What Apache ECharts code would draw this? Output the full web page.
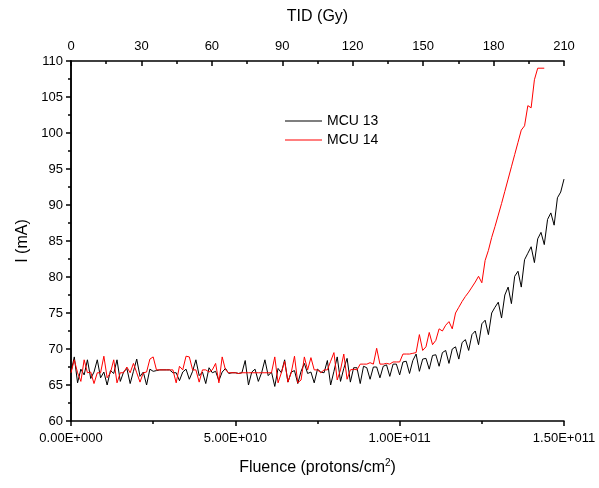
<!DOCTYPE html>
<html><head><meta charset="utf-8">
<script src="https://cdn.jsdelivr.net/npm/echarts@6/dist/echarts.min.js"></script>
<style>html,body{margin:0;padding:0;background:#fff}#c{width:599px;height:488px}</style>
</head><body><div id="c"></div>
<script>
// Fluence step between samples (protons/cm^2)
var fluenceStep = 1e9;
var seriesNames = ['MCU 13', 'MCU 14'];
var mcu13 = [
66.8,68.9,65.3,67.2,66.4,68.5,65.9,66.8,68.5,66.0,
66.8,65.0,67.0,66.6,68.5,65.5,66.8,67.3,65.2,66.9,
68.6,66.2,66.8,65.0,67.2,66.9,67.0,67.1,67.1,67.1,
67.1,66.7,66.7,65.6,66.8,67.2,65.8,66.9,68.5,66.3,
66.8,65.2,67.4,66.7,66.9,65.6,66.8,67.3,66.6,66.7,
66.7,66.6,66.7,68.4,65.0,66.8,67.2,65.5,66.7,68.5,
66.3,66.8,64.8,67.3,66.7,68.5,65.4,66.8,67.0,65.2,
66.9,68.0,66.6,66.8,65.3,67.2,66.8,66.7,68.4,65.0,
66.9,68.9,65.5,67.3,68.7,65.4,67.4,67.4,65.2,67.6,
67.4,65.8,67.5,67.5,66.0,67.6,67.8,66.2,67.9,67.9,
66.4,68.2,68.3,66.6,68.4,69.3,66.9,68.6,68.7,67.2,
69.1,69.2,67.6,69.5,69.8,68.0,70.0,70.3,68.6,70.9,
71.3,69.8,72.0,72.5,70.6,73.5,74.0,72.0,75.0,75.8,
76.5,74.3,77.5,78.6,76.3,80.1,80.8,78.6,82.4,83.3,
84.2,82.0,85.3,86.2,84.5,88.0,88.9,87.2,91.0,91.8,
93.6];
var mcu14 = [
66.7,68.5,66.7,65.5,68.5,66.7,66.8,65.2,66.7,66.7,
69.0,66.0,66.7,68.5,65.3,66.7,66.7,67.5,66.7,68.0,
66.7,65.4,66.7,66.8,68.6,68.9,67.1,67.1,67.1,67.1,
67.1,67.1,65.3,67.6,67.1,69.0,68.9,67.1,67.1,65.4,
67.1,67.1,66.8,67.1,68.0,65.3,68.9,67.1,66.7,66.7,
66.7,66.6,66.7,66.7,66.7,66.7,66.7,66.7,66.7,66.7,
66.7,66.7,68.9,65.3,66.7,68.3,65.4,66.7,69.0,65.3,
65.7,68.9,67.1,68.8,67.1,67.1,66.7,67.1,67.1,68.3,
69.5,65.7,67.1,69.3,65.8,67.1,67.2,67.1,67.9,67.9,
67.9,68.1,67.9,70.1,67.9,67.9,68.0,67.9,68.2,68.2,
68.2,69.3,69.3,69.3,69.4,69.5,72.0,69.8,70.3,72.3,
70.6,71.2,72.8,72.5,73.3,73.8,72.8,75.0,75.8,76.6,
77.3,77.9,78.6,79.3,80.1,79.2,82.3,83.7,85.5,87.0,
88.6,90.2,91.9,93.6,95.3,97.0,98.7,100.4,101.0,103.8,
103.5,107.4,109.0,109.0,109.0];
var xTicks = [0, 5e10, 1e11, 1.5e11];
var xTickLabels = ['0.00E+000', '5.00E+010', '1.00E+011', '1.50E+011'];
var tidTicks = [0, 30, 60, 90, 120, 150, 180, 210];
var yTicks = [60, 65, 70, 75, 80, 85, 90, 95, 100, 105, 110];

function toPairs(arr) {
  return arr.map(function (v, i) { return [i * fluenceStep, v]; });
}
var font = 'Liberation Sans, Arial, sans-serif';
var axisLine = { show: true, lineStyle: { color: '#000', width: 1.5 } };
var chart = echarts.init(document.getElementById('c'), null, { renderer: 'canvas' });
chart.setOption({
  animation: false,
  backgroundColor: '#fff',
  grid: { left: 71, right: 35, top: 61, bottom: 67, containLabel: false },
  legend: {
    left: 280, top: 109, orient: 'vertical', icon: 'rect', itemWidth: 37, itemHeight: 1.2, itemGap: 5,
    textStyle: { fontFamily: font, fontSize: 14, color: '#000' },
    data: seriesNames
  },
  xAxis: [{
    type: 'value', position: 'bottom', min: xTicks[0], max: xTicks[xTicks.length - 1], interval: xTicks[1] - xTicks[0],
    axisLine: axisLine, splitLine: { show: false },
    axisTick: { show: true, inside: false, length: 5, lineStyle: { color: '#000', width: 1.5 } },
    minorTick: { show: true, splitNumber: 2, length: 3, lineStyle: { color: '#000', width: 1.5 } },
    axisLabel: { fontFamily: font, fontSize: 13, color: '#000', margin: 11,
      formatter: function (v) { var k = xTicks.indexOf(v); return k >= 0 ? xTickLabels[k] : ''; } },
    name: '{a|Fluence (protons/cm}{s|2}{a|)}', nameLocation: 'middle', nameGap: 37,
    nameTextStyle: { rich: { a: { fontFamily: font, fontSize: 16, color: '#000' }, s: { fontFamily: font, fontSize: 10, color: '#000', verticalAlign: 'top', padding: [0, 0, 9, 0] } } }
  }, {
    type: 'value', position: 'top', min: tidTicks[0], max: tidTicks[tidTicks.length - 1], interval: tidTicks[1] - tidTicks[0],
    axisLine: axisLine, splitLine: { show: false },
    axisTick: { show: true, inside: true, length: 5, lineStyle: { color: '#000', width: 1.5 } },
    minorTick: { show: true, splitNumber: 2, length: 3, lineStyle: { color: '#000', width: 1.5 } },
    axisLabel: { fontFamily: font, fontSize: 13, color: '#000', margin: 8 },
    name: 'TID (Gy)', nameLocation: 'middle', nameGap: 36,
    nameTextStyle: { fontFamily: font, fontSize: 16, color: '#000' }
  }],
  yAxis: [{
    type: 'value', position: 'left', min: yTicks[0], max: yTicks[yTicks.length - 1], interval: yTicks[1] - yTicks[0],
    axisLine: axisLine, splitLine: { show: false },
    axisTick: { show: true, inside: false, length: 5, lineStyle: { color: '#000', width: 1.5 } },
    minorTick: { show: true, splitNumber: 2, length: 3, lineStyle: { color: '#000', width: 1.5 } },
    axisLabel: { fontFamily: font, fontSize: 13, color: '#000', margin: 8 },
    name: 'I (mA)', nameLocation: 'middle', nameGap: 36, nameRotate: 90,
    nameTextStyle: { fontFamily: font, fontSize: 16, color: '#000' }
  }, {
    type: 'value', position: 'right', min: yTicks[0], max: yTicks[yTicks.length - 1], interval: yTicks[1] - yTicks[0],
    axisLine: axisLine, splitLine: { show: false },
    axisTick: { show: true, inside: true, length: 5, lineStyle: { color: '#000', width: 1.5 } },
    minorTick: { show: true, splitNumber: 2, length: 3, lineStyle: { color: '#000', width: 1.5 } },
    axisLabel: { show: false }
  }],
  series: [{
    name: seriesNames[0], type: 'line', xAxisIndex: 0, yAxisIndex: 0, data: toPairs(mcu13),
    showSymbol: false, symbol: 'none', lineStyle: { color: '#000', width: 1 }, itemStyle: { color: '#000' }, z: 3
  }, {
    name: seriesNames[1], type: 'line', xAxisIndex: 0, yAxisIndex: 0, data: toPairs(mcu14),
    showSymbol: false, symbol: 'none', lineStyle: { color: '#ff0000', width: 1 }, itemStyle: { color: '#ff0000' }, z: 4
  }]
});
</script></body></html>
